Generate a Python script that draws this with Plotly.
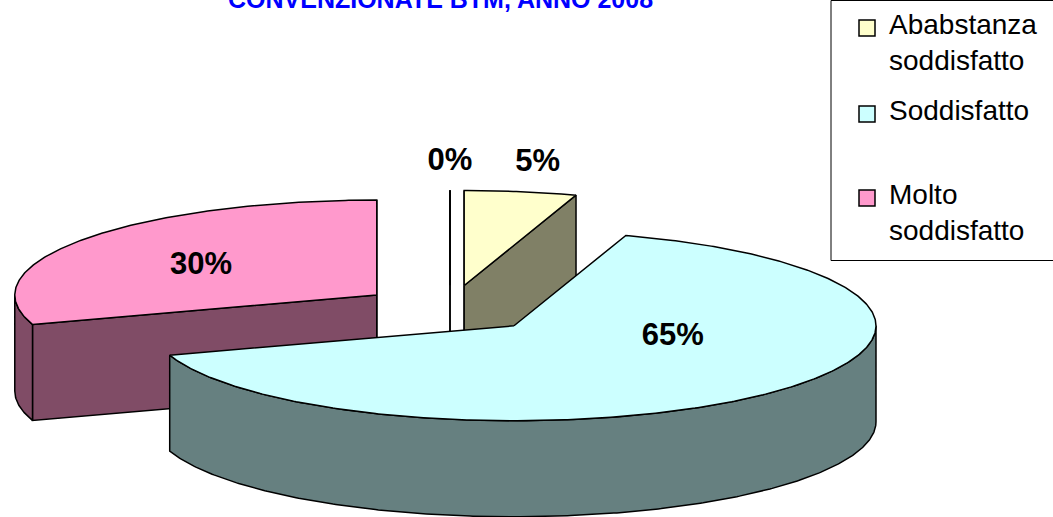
import numpy as np
import plotly.graph_objects as go

# ---------------- data ----------------
categories = ["Poco soddisfatto", "Ababstanza soddisfatto", "Soddisfatto", "Molto soddisfatto"]
values = [0, 5, 65, 30]
title_text = "CONVENZIONATE BTM, ANNO 2008"

# ---------------- style ----------------
top_colors = ["#FFFFFF", "#FFFFCC", "#CCFFFF", "#FF99CC"]
side_colors = ["#808080", "#808066", "#668080", "#804C66"]
label_k = [1.3, 1.3, 0.62, 0.6]
label_dy = [0, 0, -30, 5]
legend_baselines = [36, 122, 206]

W, H = 1053, 517
CX, CY = 450, 309          # pie centre (pixel space)
A, B = 362, 95             # ellipse radii
DEPTH = 96                 # thickness of the 3D pie
EXPLODE = 0.25             # explosion as fraction of radius
FONT = "Liberation Sans, Arial, sans-serif"

total = float(sum(values))
cum = np.concatenate([[0], np.cumsum(values)])
starts = cum[:-1] / total * 360.0
ends = cum[1:] / total * 360.0


def pt(cx, cy, deg, r=1.0):
    t = np.radians(deg)
    return cx + A * r * np.sin(t), cy - B * r * np.cos(t)


fig = go.Figure()


def poly(xs, ys, fill):
    fig.add_trace(go.Scatter(
        x=list(xs) + [xs[0]], y=list(ys) + [ys[0]], mode="lines",
        fill="toself", fillcolor=fill,
        line=dict(color="black", width=1.5),
        hoverinfo="skip", showlegend=False))


centers = []
for i in range(len(values)):
    mid = (starts[i] + ends[i]) / 2.0
    ox, oy = pt(CX, CY, mid, EXPLODE)
    centers.append((ox, oy, mid))

order = sorted(range(len(values)), key=lambda i: centers[i][1])

for i in order:
    s, e = starts[i], ends[i]
    ox, oy, mid = centers[i]
    n = max(2, int(abs(e - s) * 2) + 2)
    th = np.linspace(s, e, n)
    ax, ay = pt(ox, oy, th)
    # start radial face
    if -np.cos(np.radians(s - 90)) >= -1e-9:
        px, py = pt(ox, oy, s)
        poly([ox, px, px, ox], [oy, py, py + DEPTH, oy + DEPTH], side_colors[i])
    # end radial face
    if -np.cos(np.radians(e + 90)) >= -1e-9:
        px, py = pt(ox, oy, e)
        poly([ox, px, px, ox], [oy, py, py + DEPTH, oy + DEPTH], side_colors[i])
    # outer curved face (front part, 90..270 deg)
    lo, hi = max(s, 90.0), min(e, 270.0)
    if hi > lo:
        m = max(2, int((hi - lo) * 2) + 2)
        tt = np.linspace(lo, hi, m)
        bx, by = pt(ox, oy, tt)
        xs = list(bx) + list(bx[::-1])
        ys = list(by) + list((by + DEPTH)[::-1])
        poly(xs, ys, side_colors[i])
    # top face
    poly([ox] + list(ax), [oy] + list(ay), top_colors[i])

# percentage labels
lx, ly, lt = [], [], []
for i in range(len(values)):
    ox, oy, mid = centers[i]
    x, y = pt(ox, oy, mid, label_k[i])
    lx.append(x)
    ly.append(y + label_dy[i])
    lt.append("<b>%d%%</b>" % round(values[i] / total * 100))
fig.add_trace(go.Scatter(x=lx, y=ly, text=lt, mode="text",
                         textfont=dict(family=FONT, size=31, color="black"),
                         hoverinfo="skip", showlegend=False))

# legend (built manually)
legend_idx = [i for i in range(len(values)) if values[i] > 0]
fig.add_shape(type="rect", xref="x", yref="y", x0=831, x1=1060, y0=0.5, y1=260.5,
              line=dict(color="black", width=1), fillcolor="rgba(0,0,0,0)", layer="above")
fig.add_trace(go.Scatter(
    x=[867] * len(legend_idx), y=[b - 8 for b in legend_baselines],
    mode="markers",
    marker=dict(symbol="square", size=16, color=[top_colors[i] for i in legend_idx],
                line=dict(color="black", width=1.5)),
    hoverinfo="skip", showlegend=False))
for j, i in enumerate(legend_idx):
    fig.add_annotation(x=887, y=legend_baselines[j] - 29, xref="x", yref="y",
                       xanchor="left", yanchor="top", align="left", showarrow=False,
                       text=categories[i].replace(" ", "<br>"),
                       font=dict(family=FONT, size=28, color="black"))

# title (top clipped as in the original)
fig.add_annotation(x=440 / W, y=1 + 1.0 / H, xref="paper", yref="paper",
                   xanchor="center", yanchor="middle",
                   showarrow=False, text="<b>%s</b>" % title_text,
                   font=dict(family=FONT, size=25, color="#0000FF"))

fig.update_layout(
    width=W, height=H, margin=dict(l=0, r=0, t=0, b=0),
    paper_bgcolor="white", plot_bgcolor="white",
    xaxis=dict(range=[0, W], visible=False, fixedrange=True),
    yaxis=dict(range=[H, 0], visible=False, fixedrange=True),
    showlegend=False,
)

fig.write_html("out.html", config={"displayModeBar": False},
               post_script="document.body.style.margin='0px';document.body.style.overflow='hidden';")
